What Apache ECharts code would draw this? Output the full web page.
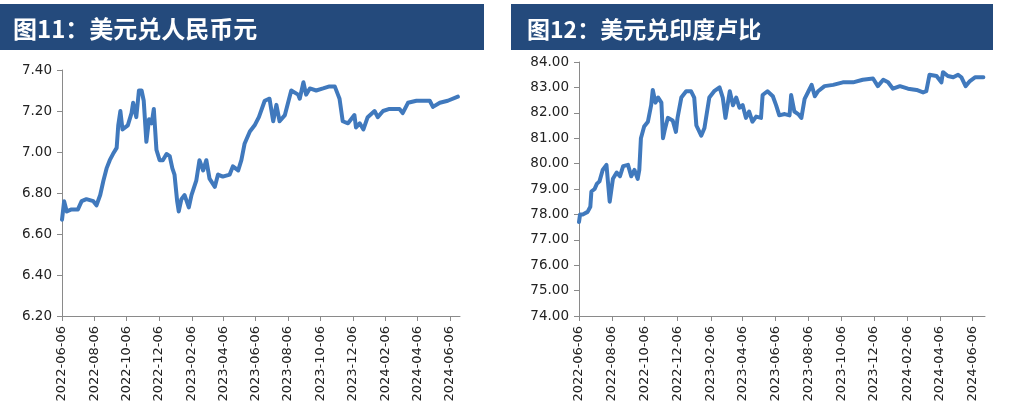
<!DOCTYPE html>
<html>
<head>
<meta charset="utf-8">
<script src="https://cdn.jsdelivr.net/npm/echarts@6/dist/echarts.min.js"></script>
<style>
html,body{margin:0;padding:0;background:#fff;}
#main{width:1022px;height:418px;}
</style>
</head>
<body>
<div id="main"></div>
<script>
// ---- data ----
const titleLeft = '图11：美元兑人民币元';
const titleRight = '图12：美元兑印度卢比';

const tickDates = ['2022-06-06','2022-08-06','2022-10-06','2022-12-06','2023-02-06','2023-04-06',
  '2023-06-06','2023-08-06','2023-10-06','2023-12-06','2024-02-06','2024-04-06','2024-06-06'];

const cnyYTicks = [6.2, 7.4, 0.2]; // min, max, step
const inrYTicks = [74, 84, 1];

const cnyDates = ['2022-06-06','2022-06-10','2022-06-15','2022-06-24','2022-07-06','2022-07-13','2022-07-22',
  '2022-08-04','2022-08-10','2022-08-17','2022-08-23','2022-08-29','2022-09-04','2022-09-10','2022-09-17',
  '2022-09-20','2022-09-24','2022-09-28','2022-10-08','2022-10-15','2022-10-18','2022-10-24','2022-10-29',
  '2022-11-03','2022-11-07','2022-11-12','2022-11-17','2022-11-22','2022-11-26','2022-12-01','2022-12-07',
  '2022-12-13','2022-12-20','2022-12-26','2022-12-31','2023-01-04','2023-01-09','2023-01-12','2023-01-17',
  '2023-01-23','2023-01-31','2023-02-05','2023-02-14','2023-02-20','2023-02-27','2023-03-05','2023-03-11',
  '2023-03-21','2023-03-27','2023-04-05','2023-04-18','2023-04-24','2023-05-04','2023-05-10','2023-05-16',
  '2023-05-26','2023-06-04','2023-06-12','2023-06-23','2023-07-02','2023-07-09','2023-07-15','2023-07-21',
  '2023-07-31','2023-08-12','2023-08-25','2023-08-28','2023-09-04','2023-09-09','2023-09-16','2023-09-28',
  '2023-10-11','2023-10-23','2023-11-02','2023-11-08','2023-11-11','2023-11-17','2023-11-27','2023-12-09',
  '2023-12-12','2023-12-19','2023-12-26','2024-01-03','2024-01-16','2024-01-22','2024-02-01','2024-02-13',
  '2024-03-03','2024-03-09','2024-03-19','2024-04-04','2024-04-19','2024-04-29','2024-05-05','2024-05-18',
  '2024-06-02','2024-06-21'];
const cnyValues = [6.67,6.76,6.71,6.72,6.72,6.76,6.77,
  6.76,6.74,6.79,6.86,6.92,6.96,6.99,7.02,
  7.13,7.20,7.11,7.13,7.19,7.24,7.17,7.30,
  7.30,7.25,7.05,7.16,7.14,7.21,7.01,6.96,
  6.96,6.99,6.98,6.92,6.89,6.76,6.71,6.77,
  6.79,6.73,6.79,6.86,6.96,6.91,6.96,6.87,
  6.83,6.89,6.88,6.89,6.93,6.91,6.96,7.04,
  7.10,7.13,7.17,7.25,7.26,7.15,7.23,7.15,
  7.18,7.30,7.28,7.26,7.34,7.28,7.31,7.30,
  7.31,7.32,7.32,7.28,7.26,7.15,7.14,7.18,
  7.12,7.14,7.11,7.17,7.20,7.17,7.20,7.21,
  7.21,7.19,7.24,7.25,7.25,7.25,7.22,7.24,
  7.25,7.27];

const inrDates = ['2022-06-06','2022-06-08','2022-06-13','2022-06-22','2022-06-27','2022-06-29','2022-07-05',
  '2022-07-09','2022-07-14','2022-07-20','2022-07-27','2022-07-30','2022-08-02','2022-08-08','2022-08-15',
  '2022-08-21','2022-08-27','2022-09-05','2022-09-11','2022-09-17','2022-09-23','2022-09-26','2022-09-29',
  '2022-10-05','2022-10-12','2022-10-18','2022-10-21','2022-10-26','2022-10-31','2022-11-06','2022-11-09',
  '2022-11-12','2022-11-18','2022-11-27','2022-12-03','2022-12-06','2022-12-13','2022-12-22','2022-12-31',
  '2023-01-06','2023-01-10','2023-01-19','2023-01-25','2023-02-03','2023-02-12','2023-02-22','2023-02-28',
  '2023-03-05','2023-03-13','2023-03-19','2023-03-25','2023-03-31','2023-04-06','2023-04-12','2023-04-18',
  '2023-04-24','2023-05-01','2023-05-10','2023-05-13','2023-05-22','2023-06-01','2023-06-07','2023-06-13',
  '2023-06-23','2023-07-02','2023-07-05','2023-07-11','2023-07-18','2023-07-24','2023-07-30','2023-08-05',
  '2023-08-12','2023-08-18','2023-08-24','2023-09-05','2023-09-21','2023-10-09','2023-10-28','2023-11-15',
  '2023-12-04','2023-12-13','2023-12-23','2024-01-01','2024-01-10','2024-01-23','2024-02-07','2024-02-23',
  '2024-03-06','2024-03-12','2024-03-18','2024-03-31','2024-04-09','2024-04-12','2024-04-21','2024-05-01',
  '2024-05-10','2024-05-16','2024-05-24','2024-06-01','2024-06-11','2024-06-26'];
const inrValues = [77.7,78.0,78.0,78.1,78.3,78.9,79.0,
  79.2,79.3,79.75,79.95,79.9,78.5,79.4,79.65,
  79.5,79.9,79.95,79.5,79.75,79.4,79.75,81.0,
  81.46,81.65,82.3,82.9,82.4,82.6,82.4,81.0,
  81.3,81.8,81.7,81.25,81.8,82.6,82.85,82.85,
  82.6,81.5,81.1,81.4,82.6,82.85,83.0,82.6,
  81.8,82.85,82.3,82.6,82.2,82.3,81.8,82.05,
  81.65,81.85,81.8,82.7,82.85,82.65,82.3,81.9,
  81.95,81.9,82.7,82.05,81.95,81.8,82.55,82.8,
  83.1,82.65,82.85,83.05,83.1,83.2,83.2,83.3,
  83.35,83.05,83.3,83.2,82.95,83.05,82.95,82.9,
  82.8,82.85,83.5,83.45,83.2,83.6,83.45,83.4,
  83.5,83.4,83.05,83.25,83.4,83.4];

// ---- chart ----
const axisGray = '#8a8a8a';
const lineBlue = '#4079bd';
const labelFont = {fontFamily: 'DejaVu Sans', fontSize: 13, color: '#222222'};

const ts = s => Date.parse(s + 'T00:00:00Z');
function fmtDate(v){
  const d = new Date(v);
  const p = n => (n < 10 ? '0' : '') + n;
  return d.getUTCFullYear() + '-' + p(d.getUTCMonth() + 1) + '-' + p(d.getUTCDate());
}
const tickTs = tickDates.map(ts);

function xAxisCfg(idx, maxDate){
  return {
    type: 'value', gridIndex: idx, scale: true,
    min: ts('2022-06-06'), max: ts(maxDate),
    axisLine: {show: true, onZero: false, lineStyle: {color: axisGray, width: 1}},
    axisTick: {show: true, length: 5, lineStyle: {color: axisGray}, customValues: tickTs},
    axisLabel: Object.assign({rotate: 90, margin: 10, customValues: tickTs,
      formatter: v => fmtDate(v), hideOverlap: false, showMinLabel: true, showMaxLabel: true}, labelFont),
    splitLine: {show: false}
  };
}
function yAxisCfg(idx, t, digits){
  return {
    type: 'value', gridIndex: idx, min: t[0], max: t[1], interval: t[2],
    axisLine: {show: true, lineStyle: {color: axisGray, width: 1}},
    axisTick: {show: true, length: 5, lineStyle: {color: axisGray}},
    axisLabel: Object.assign({margin: 10, formatter: v => v.toFixed(digits)}, labelFont, {fontSize: 13.5}),
    splitLine: {show: false}
  };
}

const chart = echarts.init(document.getElementById('main'), null, {renderer: 'canvas'});
chart.setOption({
  animation: false,
  backgroundColor: '#ffffff',
  grid: [
    {left: 62, top: 70, width: 398, height: 246},
    {left: 579, top: 62, width: 406, height: 254}
  ],
  xAxis: [xAxisCfg(0, '2024-06-25'), xAxisCfg(1, '2024-06-29')],
  yAxis: [yAxisCfg(0, cnyYTicks, 2), yAxisCfg(1, inrYTicks, 2)],
  graphic: [
    {type: 'rect', shape: {x: 0, y: 4, width: 484, height: 46}, style: {fill: '#244a7c'}},
    {type: 'rect', shape: {x: 511, y: 4, width: 482, height: 46}, style: {fill: '#244a7c'}},
    {type: 'text', x: 13, y: 29, style: {text: titleLeft, fill: '#ffffff', font: 'bold 24px "Noto Sans CJK SC"', verticalAlign: 'middle'}},
    {type: 'text', x: 527, y: 29, style: {text: titleRight, fill: '#ffffff', font: 'bold 23px "Noto Sans CJK SC"', verticalAlign: 'middle'}}
  ],
  series: [
    {type: 'line', xAxisIndex: 0, yAxisIndex: 0, showSymbol: false, symbol: 'none',
     data: cnyDates.map((d, i) => [ts(d), cnyValues[i]]),
     lineStyle: {color: lineBlue, width: 4, join: 'round', cap: 'round'}},
    {type: 'line', xAxisIndex: 1, yAxisIndex: 1, showSymbol: false, symbol: 'none',
     data: inrDates.map((d, i) => [ts(d), inrValues[i]]),
     lineStyle: {color: lineBlue, width: 4, join: 'round', cap: 'round'}}
  ]
});
</script>
</body>
</html>
